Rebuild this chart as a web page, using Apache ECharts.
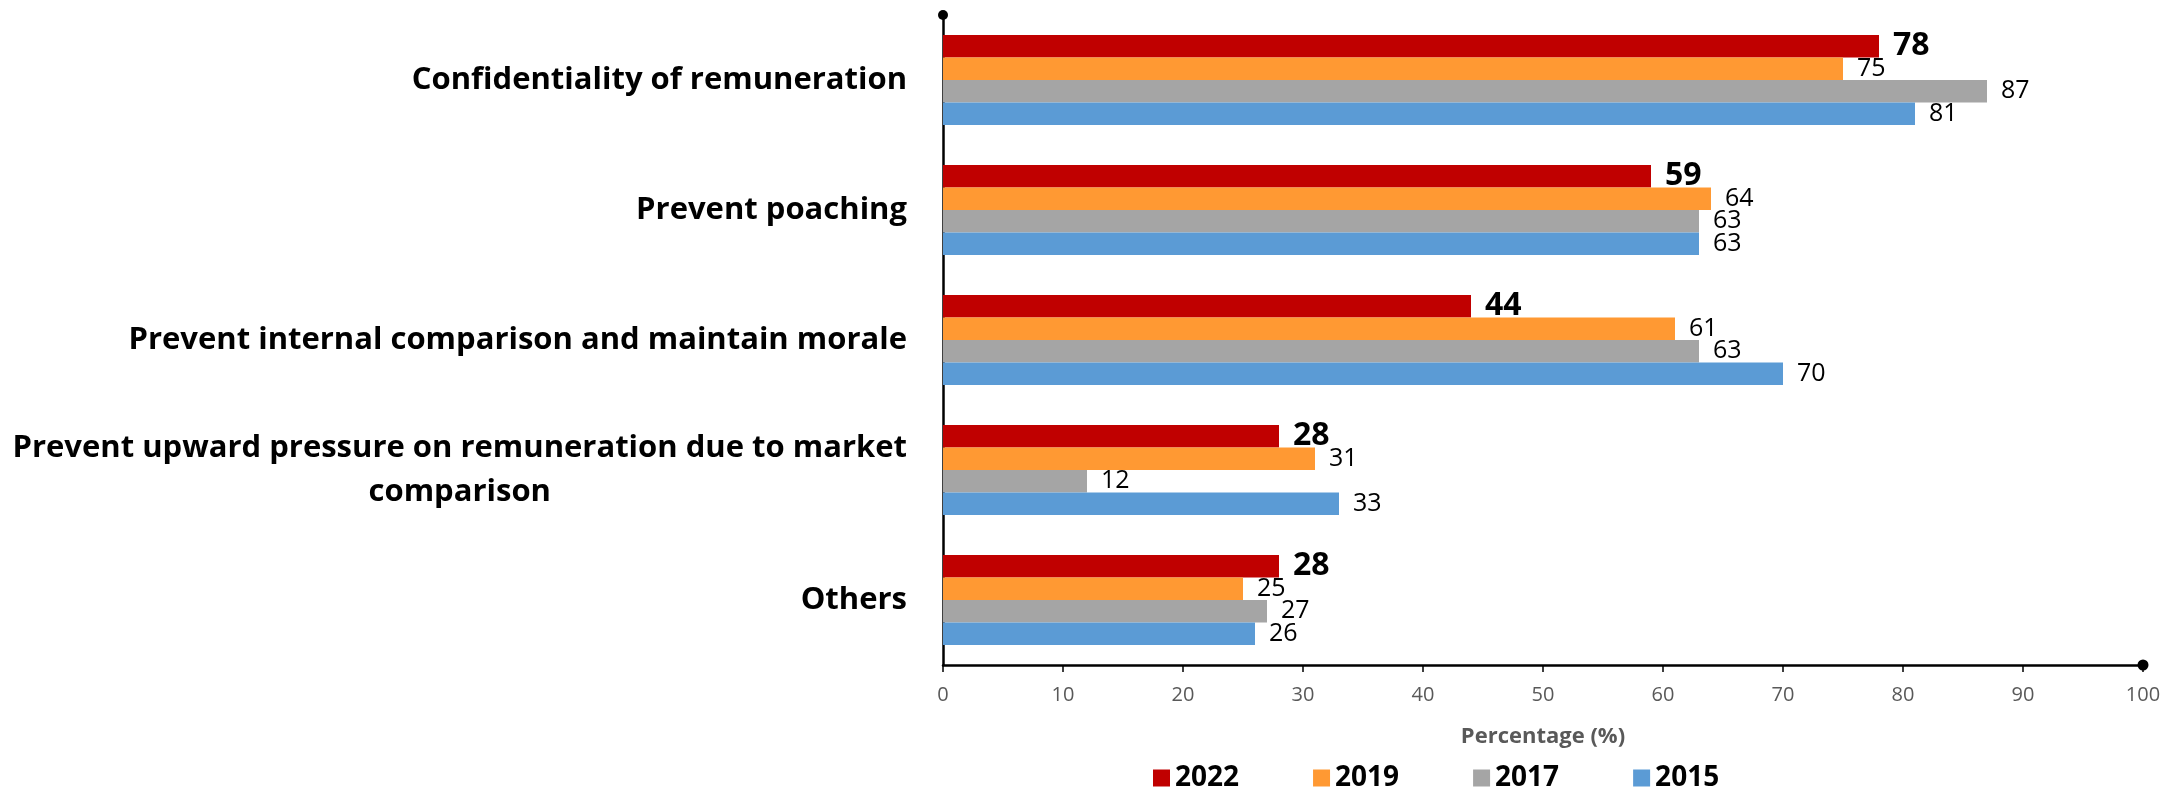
<!DOCTYPE html>
<html>
<head>
<meta charset="utf-8">
<title>Reasons for pay confidentiality</title>
<script src="https://cdn.jsdelivr.net/npm/echarts@6/dist/echarts.min.js"></script>
<style>
  html, body { margin: 0; padding: 0; background: #ffffff; }
  #chart { width: 2180px; height: 791px; }
</style>
</head>
<body>
<div id="chart"></div>
<script>
// Reasons given for keeping remuneration confidential, % of respondents by survey year
const categories = [
  'Confidentiality of remuneration',
  'Prevent poaching',
  'Prevent internal comparison and maintain morale',
  'Prevent upward pressure on remuneration due to market\ncomparison',
  'Others'
];
const years = ['2022', '2019', '2017', '2015'];
const values2022 = [78, 59, 44, 28, 28];
const values2019 = [75, 64, 61, 31, 25];
const values2017 = [87, 63, 63, 12, 27];
const values2015 = [81, 63, 70, 33, 26];
const xTicks = [0, 10, 20, 30, 40, 50, 60, 70, 80, 90, 100];
const axisTitle = 'Percentage (%)';

const FONT = '"Open Sans", "Noto Sans", sans-serif';
const colors = ['#C00000', '#FF9933', '#A5A5A5', '#5B9BD5'];
const seriesValues = [values2022, values2019, values2017, values2015];

const chart = echarts.init(document.getElementById('chart'), null, { renderer: 'canvas' });

const series = years.map((year, i) => ({
  name: year,
  type: 'bar',
  data: seriesValues[i],
  barGap: '0%',
  barCategoryGap: '30.8%',
  itemStyle: { color: colors[i] },
  label: {
    show: true,
    position: 'right',
    distance: 14,
    color: '#000000',
    fontFamily: FONT,
    fontSize: i === 0 ? 32 : 25,
    fontWeight: i === 0 ? 'bold' : 'normal'
  },
  emphasis: { disabled: true }
}));

chart.setOption({
  animation: false,
  backgroundColor: '#ffffff',
  color: colors,
  grid: { left: 943, right: 37, top: 15, bottom: 126, outerBoundsMode: 'none' },
  legend: {
    data: years,
    left: 1148,
    top: 759,
    icon: 'rect',
    itemWidth: 17,
    itemHeight: 17,
    itemGap: 74,
    textStyle: { color: '#000000', fontFamily: FONT, fontSize: 28, fontWeight: 'bold' }
  },
  xAxis: {
    type: 'value',
    min: xTicks[0],
    max: xTicks[xTicks.length - 1],
    interval: xTicks[1] - xTicks[0],
    name: axisTitle,
    nameLocation: 'middle',
    nameGap: 61,
    nameTextStyle: { color: '#595959', fontFamily: FONT, fontSize: 22, fontWeight: 'bold' },
    axisLine: {
      show: true,
      symbol: ['none', 'circle'],
      symbolSize: [11, 11],
      lineStyle: { color: '#000000', width: 2.5 }
    },
    axisTick: { show: true, length: 7, lineStyle: { color: '#000000', width: 1.5 } },
    axisLabel: { color: '#595959', fontFamily: FONT, fontSize: 20, margin: 20 },
    splitLine: { show: false }
  },
  yAxis: {
    type: 'category',
    data: categories,
    inverse: true,
    axisLine: {
      show: true,
      symbol: ['none', 'circle'],
      symbolSize: [10, 10],
      lineStyle: { color: '#000000', width: 2.5 }
    },
    axisTick: { show: false },
    axisLabel: {
      margin: 36,
      formatter: (v) => v.split('\n').map((line) => '{c|' + line + '}').join('\n'),
      rich: {
        c: {
          align: 'center',
          color: '#000000',
          fontFamily: FONT,
          fontSize: 31,
          fontWeight: 'bold',
          lineHeight: 44
        }
      }
    },
    splitLine: { show: false }
  },
  series: series
});
</script>
</body>
</html>
